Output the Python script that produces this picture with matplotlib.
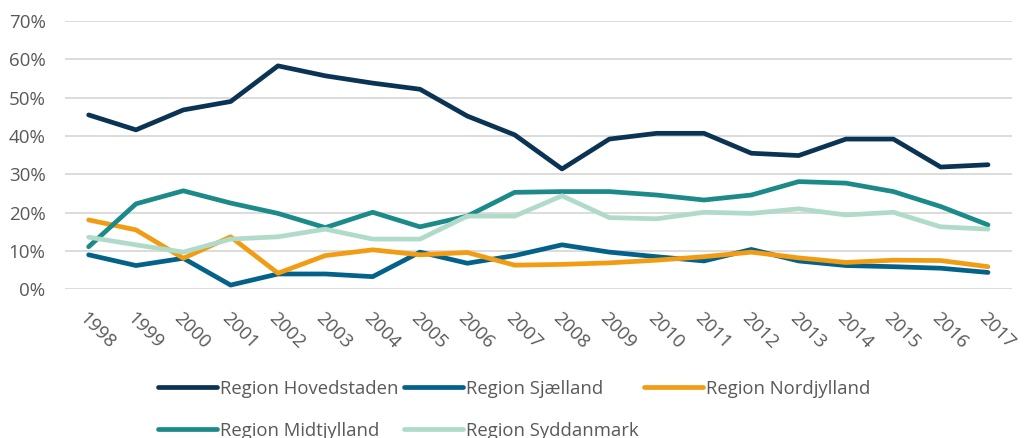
import matplotlib.pyplot as plt
from matplotlib.ticker import PercentFormatter

plt.rcParams['font.family'] = ['Open Sans', 'DejaVu Sans']

years = [str(y) for y in range(1998, 2018)]

hovedstaden = [45.5, 41.6, 46.8, 49.0, 58.3, 55.7, 53.8, 52.2, 45.2, 40.3,
               31.4, 39.2, 40.7, 40.7, 35.5, 34.9, 39.2, 39.2, 31.9, 32.5]
sjaelland = [9.0, 6.2, 8.1, 1.1, 4.0, 4.0, 3.3, 9.7, 6.8, 8.8,
             11.6, 9.7, 8.5, 7.4, 10.4, 7.4, 6.2, 5.9, 5.5, 4.4]
nordjylland = [18.1, 15.5, 8.1, 13.7, 4.2, 8.8, 10.3, 9.0, 9.6, 6.3,
               6.5, 6.9, 7.6, 8.5, 9.7, 8.2, 7.0, 7.6, 7.5, 5.9]
midtjylland = [11.1, 22.3, 25.7, 22.5, 19.8, 16.1, 20.1, 16.3, 19.1, 25.3,
               25.5, 25.5, 24.6, 23.3, 24.6, 28.1, 27.7, 25.5, 21.6, 16.8]
syddanmark = [13.6, 11.6, 9.7, 13.1, 13.7, 15.7, 13.1, 13.1, 19.1, 19.1,
              24.4, 18.7, 18.4, 20.1, 19.8, 21.0, 19.4, 20.1, 16.3, 15.7]

fig = plt.figure(figsize=(10.25, 4.38), dpi=100)
ax = fig.add_axes([0.0634, 0.3395, 0.9236, 0.6125])

x = range(len(years))
lw = 3.4
l1, = ax.plot(x, hovedstaden, color='#0b3454', lw=lw, label='Region Hovedstaden', solid_capstyle='round')
l2, = ax.plot(x, sjaelland, color='#03618a', lw=lw, label='Region Sjælland', solid_capstyle='round')
l3, = ax.plot(x, nordjylland, color='#f29c14', lw=lw, label='Region Nordjylland', solid_capstyle='round')
l4, = ax.plot(x, midtjylland, color='#1b8a89', lw=lw, label='Region Midtjylland', solid_capstyle='round')
l5, = ax.plot(x, syddanmark, color='#afdbc8', lw=lw, label='Region Syddanmark', solid_capstyle='round')

ax.set_xlim(-0.5, len(years) - 0.5)
ax.set_ylim(0, 70)
ax.set_yticks(range(0, 71, 10))
ax.yaxis.set_major_formatter(PercentFormatter(decimals=0))
ax.set_xticks(list(x))
ax.set_xticklabels(years, rotation=-45, ha='left', va='top', rotation_mode='anchor')
ax.grid(axis='y', color='#d9d9d9', lw=1.3)
ax.set_axisbelow(True)
for s in ax.spines.values():
    s.set_visible(False)
ax.tick_params(axis='both', length=0, colors='#595959', labelsize=13.5)
ax.tick_params(axis='y', pad=14)
ax.tick_params(axis='x', pad=14)

# legend order so that matplotlib's column filling gives Excel's row layout
handles = [l1, l4, l2, l5, l3]
fig.legend(handles, [h.get_label() for h in handles], ncol=3, loc='upper left',
           bbox_to_anchor=(0.147, 0.15), frameon=False, fontsize=13.3,
           labelcolor='#595959', handlelength=3.2, handletextpad=0.15,
           columnspacing=0.3, labelspacing=1.3, borderaxespad=0)

fig.savefig('out.png', dpi=100)
